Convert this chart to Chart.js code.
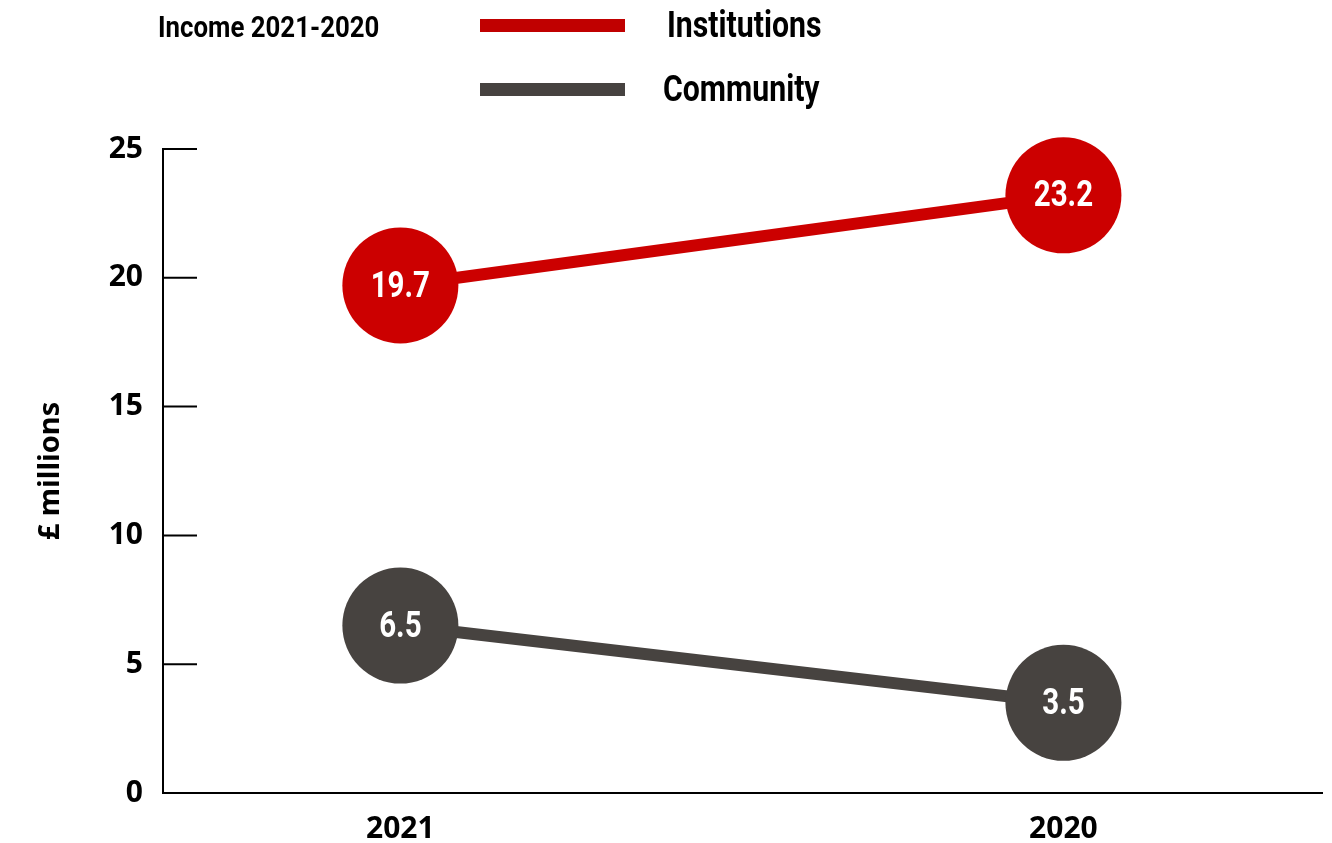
<!DOCTYPE html>
<html>
<head>
<meta charset="utf-8">
<script src="https://cdn.jsdelivr.net/npm/chart.js@4.4.1/dist/chart.umd.min.js"></script>
<style>
    html, body { margin: 0; padding: 0; background: #fff; overflow: hidden; }
    #wrap { position: relative; width: 1332px; height: 843px; }
    #chart01 { position: absolute; left: 0; top: 0; }
    .cond { font-family: Roboto, sans-serif; font-weight: bold; color: #000; position: absolute; white-space: nowrap; line-height: 1; transform-origin: 0 0; }
    #title { left: 158px; top: 13px; font-size: 29px; transform: scaleX(0.89); }
    .swatch { position: absolute; left: 480px; width: 145px; height: 13px; }
    .lgText { font-size: 36px; transform: scaleX(0.84); }
</style>
</head>
<body>
<div id="wrap">
    <canvas id="chart01" width="1332" height="843"></canvas>
    <div id="title" class="cond">Income 2021-2020</div>
    <div class="swatch" style="top:19px; background:#c00000;"></div>
    <div class="cond lgText" style="top:7px; left:667px;">Institutions</div>
    <div class="swatch" style="top:83px; background:#464240;"></div>
    <div class="cond lgText" style="top:71px; left:663px;">Community</div>
</div>
<script>
// data
const years = ['2021', '2020'];
const institutions = [19.7, 23.2];
const community = [6.5, 3.5];
const yTicks = [0, 5, 10, 15, 20, 25];

const RED = '#cc0000';
const GREY = '#474340';

function toPoints(values) {
    return values.map((v, i) => ({ x: i, y: v }));
}

// short tick marks drawn inside the plot, to the right of the y axis
const innerTicks = {
    id: 'innerTicks',
    afterDraw(chart) {
        const { ctx } = chart;
        const yScale = chart.scales.y;
        const left = chart.chartArea.left;
        ctx.save();
        ctx.strokeStyle = '#000';
        ctx.lineWidth = 2;
        yTicks.forEach((t) => {
            if (t === 0) return;
            const py = yScale.getPixelForValue(t);
            ctx.beginPath();
            ctx.moveTo(left, py);
            ctx.lineTo(left + 34, py);
            ctx.stroke();
        });
        ctx.restore();
    },
};

// value labels inside the circles (squeezed a bit to look condensed)
const pointLabels = {
    id: 'pointLabels',
    afterDatasetsDraw(chart) {
        const { ctx } = chart;
        chart.data.datasets.forEach((ds, di) => {
            chart.getDatasetMeta(di).data.forEach((el, i) => {
                ctx.save();
                ctx.translate(el.x, el.y + 2);
                ctx.scale(0.82, 1);
                ctx.fillStyle = '#fff';
                ctx.font = 'bold 36px Roboto, sans-serif';
                ctx.textAlign = 'center';
                ctx.textBaseline = 'middle';
                ctx.fillText(ds.data[i].y.toFixed(1), 0, 0);
                ctx.restore();
            });
        });
    },
};

const ctx = document.getElementById('chart01').getContext('2d');
const chart = new Chart(ctx, {
    type: 'line',
    data: {
        datasets: [
            {
                label: 'Institutions',
                data: toPoints(institutions),
                borderColor: RED,
                backgroundColor: RED,
                borderWidth: 12,
                pointRadius: 58,
                pointHoverRadius: 58,
                pointBorderWidth: 0,
                clip: false,
            },
            {
                label: 'Community',
                data: toPoints(community),
                borderColor: GREY,
                backgroundColor: GREY,
                borderWidth: 12,
                pointRadius: 58,
                pointHoverRadius: 58,
                pointBorderWidth: 0,
                clip: false,
            },
        ],
    },
    options: {
        responsive: false,
        animation: false,
        events: [],
        layout: {
            autoPadding: false,
            padding: { top: 149, right: 10, left: 0, bottom: 0 },
        },
        plugins: {
            legend: { display: false },
            title: { display: false },
            tooltip: { enabled: false },
        },
        scales: {
            x: {
                type: 'linear',
                min: -0.358,
                max: 1.39,
                afterBuildTicks(axis) {
                    axis.ticks = years.map((_, i) => ({ value: i }));
                },
                afterFit(scale) {
                    scale.height = 50;
                },
                grid: { display: false, drawTicks: false },
                border: { display: true, color: '#000', width: 2 },
                ticks: {
                    padding: 18,
                    color: '#000',
                    maxRotation: 0,
                    font: { family: "'Noto Sans', sans-serif", weight: 'bold', size: 30 },
                    callback(value) {
                        return years[value];
                    },
                },
            },
            y: {
                min: 0,
                max: 25,
                afterBuildTicks(axis) {
                    axis.ticks = yTicks.map(v => ({ value: v }));
                },
                afterFit(scale) {
                    scale.width = 163;
                },
                grid: { display: false, drawTicks: false },
                border: { display: true, color: '#000', width: 2 },
                title: {
                    display: true,
                    text: '£ millions',
                    color: '#000',
                    font: { family: "'Noto Sans', sans-serif", weight: 'bold', size: 29 },
                    padding: { top: 33, bottom: 0 },
                },
                ticks: {
                    padding: 20,
                    color: '#000',
                    font: { family: "'Noto Sans', sans-serif", weight: 'bold', size: 30 },
                },
            },
        },
    },
    plugins: [innerTicks, pointLabels],
});
</script>
</body>
</html>
